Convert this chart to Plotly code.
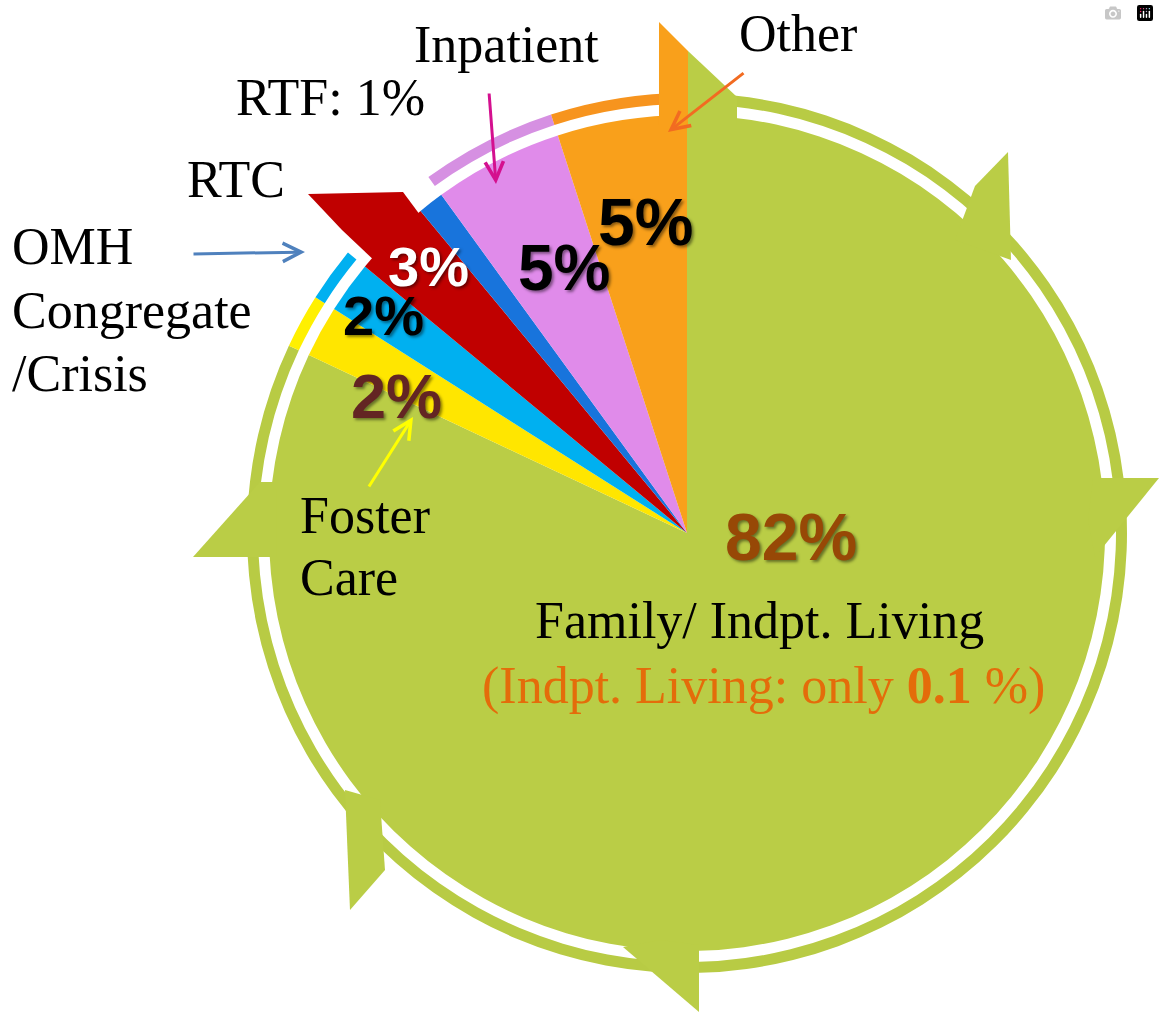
import plotly.graph_objects as go

# ---------------- data ----------------
categories = ["Other", "Inpatient", "RTF", "RTC", "OMH Congregate/Crisis",
              "Foster Care", "Family/ Indpt. Living"]
shares = [5, 5, 1, 3, 2, 2, 82]
indpt_living_share = 0.1

# ---------------- styles ----------------
slice_colors = ["#F9A01B", "#E08BEA", "#1874DC", "#C00000", "#00B0F0",
                "#FFE600", "#BACD46"]
# outer decorative ring: no ring over RTF / RTC (spike area in the original)
ring_colors = ["#F7941E", "#D690E2", "rgba(0,0,0,0)", "rgba(0,0,0,0)", "#00B0F0",
               "#FFF000", "#B8CB44"]
pct_colors = {0: "#000000", 1: "#000000", 3: "#FFFFFF", 4: "#000000",
              5: "#632523", 6: "#974806"}
pct_sizes = {0: 66, 1: 64, 3: 56, 4: 56, 5: 63, 6: 66}
pct_pos = {0: (645, 222), 1: (564, 268), 3: (428, 266), 4: (383, 315),
           5: (396, 396), 6: (791, 537)}

W, H = 1159, 1012
CX, CY, R = 687, 533, 418
R_IN, R_OUT = 429, 440


def px(x):
    return x / W


def py(y):
    return 1 - y / H


# clockwise from 12 o'clock, the original runs Family -> Foster -> ... -> Other
order = list(range(len(categories)))[::-1]

fig = go.Figure()

# decorative outer ring
fig.add_trace(go.Pie(
    labels=[categories[i] for i in order], values=[shares[i] for i in order],
    sort=False, direction="clockwise", rotation=0, hole=R_IN / R_OUT,
    textinfo="none", hoverinfo="skip",
    marker=dict(colors=[ring_colors[i] for i in order], line=dict(width=0)),
    domain=dict(x=[px(CX - R_OUT), px(CX + R_OUT)], y=[py(CY + R_OUT), py(CY - R_OUT)]),
    showlegend=False,
))

# main pie
fig.add_trace(go.Pie(
    labels=[categories[i] for i in order], values=[shares[i] for i in order],
    sort=False, direction="clockwise", rotation=0,
    textinfo="none", hoverinfo="label+percent",
    marker=dict(colors=[slice_colors[i] for i in order], line=dict(width=0)),
    domain=dict(x=[px(CX - R), px(CX + R)], y=[py(CY + R), py(CY - R)]),
    showlegend=False,
))

# decorative spikes of the pie outline (colour of the slice they sit on)
spikes = [
    ([(659, 22), (688, 51), (688, 125), (659, 125)], 0),
    ([(688, 51), (737, 97), (737, 125), (688, 125)], 6),
    ([(975, 186), (1008, 152), (1011, 260), (955, 240)], 6),
    ([(1093, 478), (1159, 478), (1095, 557), (1088, 520)], 6),
    ([(623, 947), (699, 1012), (699, 945), (660, 940)], 6),
    ([(345, 790), (350, 910), (385, 870), (380, 800)], 6),
    ([(193, 557), (260, 482), (276, 482), (276, 557)], 6),
    ([(308, 194), (403, 192), (423, 219), (378, 264), (342, 230)], 3),
]
shapes = []
for pts, ci in spikes:
    path = "M " + " L ".join(f"{px(x):.5f},{py(y):.5f}" for x, y in pts) + " Z"
    shapes.append(dict(type="path", xref="paper", yref="paper", path=path,
                       fillcolor=slice_colors[ci], line=dict(width=0), layer="above"))

annotations = []

# percentage labels inside the slices
for i, (x, y) in pct_pos.items():
    annotations.append(dict(
        x=px(x), y=py(y), xref="paper", yref="paper", showarrow=False,
        text=f"<b>{shares[i]}%</b>", xanchor="center", yanchor="middle",
        font=dict(family="Liberation Sans, Arial, sans-serif",
                  size=pct_sizes[i], color=pct_colors[i],
                  shadow="2px 2px 3px rgba(0,0,0,0.45)"),
    ))

serif = "Liberation Serif, Times New Roman, serif"


def text_ann(txt, x, y, size=52, color="#000000", anchor="center"):
    annotations.append(dict(
        x=px(x), y=py(y), xref="paper", yref="paper", showarrow=False,
        text=txt, xanchor=anchor, yanchor="middle",
        font=dict(family=serif, size=size, color=color),
    ))


text_ann(categories[0], 798, 33)
text_ann(categories[1], 506, 45)
text_ann(f"RTF: {shares[2]}%", 330, 97)
text_ann(categories[3], 236, 180)
text_ann("OMH", 10, 246, anchor="left")
text_ann("Congregate", 10, 310, anchor="left")
text_ann("/Crisis", 10, 373, anchor="left")
text_ann("Foster", 298, 515, anchor="left")
text_ann("Care", 298, 577, anchor="left")
text_ann(categories[6], 759, 620)
text_ann(f"(Indpt. Living: only <b>{indpt_living_share}</b> %)", 764, 686,
         color="#E46C0A")


def arrow(head, tail, color):
    annotations.append(dict(
        x=px(head[0]), y=py(head[1]), xref="paper", yref="paper",
        ax=tail[0] - head[0], ay=tail[1] - head[1], axref="pixel", ayref="pixel",
        text="", showarrow=True, arrowhead=5, arrowsize=1.2, arrowwidth=3,
        arrowcolor=color, standoff=0, startstandoff=0,
    ))


arrow((668, 132), (745, 72), "#F26B21")
arrow((496, 184), (489, 92), "#D4108F")
arrow((305, 252), (192, 254), "#4F81BD")
arrow((413, 417), (368, 488), "#FFFF00")

fig.update_layout(
    width=W, height=H, margin=dict(l=0, r=0, t=0, b=0),
    paper_bgcolor="white", plot_bgcolor="white",
    shapes=shapes, annotations=annotations,
)

fig.write_html("out.html", post_script="document.body.style.margin='0';")
